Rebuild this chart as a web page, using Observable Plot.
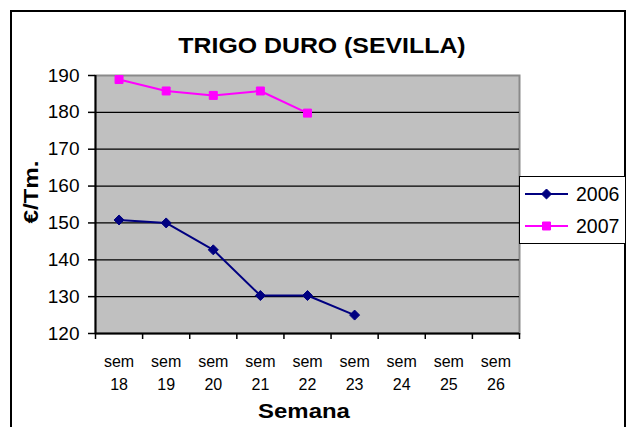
<!DOCTYPE html>
<html>
<head>
<meta charset="utf-8">
<script src="https://cdn.jsdelivr.net/npm/d3@7"></script>
<script src="https://cdn.jsdelivr.net/npm/@observablehq/plot@0.6"></script>
<style>
  html, body { margin: 0; padding: 0; background: #fff; overflow: hidden; }
  body { font-family: Arial, "Liberation Sans", sans-serif; color: #000; }
  #wrap { position: relative; width: 634px; height: 427px; overflow: hidden; }
  #chart { position: absolute; left: 0; top: 0; }
  #border { position: absolute; left: 10px; top: 10px; width: 616px; height: 520px; border: 2px solid #000; box-sizing: border-box; pointer-events: none; }
  .lbl { position: absolute; font-weight: bold; line-height: 1; white-space: nowrap; }
  #title { left: 321.5px; top: 35px; font-size: 22px; transform: translateX(-50%) scaleX(1.13); }
  #xlabel { left: 304px; top: 400px; font-size: 21px; transform: translateX(-50%) scaleX(1.14); }
  #ylabel { left: 30px; top: 192px; font-size: 21px; transform: translate(-50%, -50%) rotate(-90deg) scaleX(1.15); }
  #legend { position: absolute; left: 519px; top: 176px; width: 107px; height: 68px; border: 1.5px solid #000; box-sizing: border-box; background: #fff; }
  #legend svg { position: absolute; left: 0; top: 0; }
</style>
</head>
<body>
<div id="wrap">
  <div id="chart"></div>
  <div id="border"></div>
  <div id="title" class="lbl">TRIGO DURO (SEVILLA)</div>
  <div id="ylabel" class="lbl">€/Tm.</div>
  <div id="xlabel" class="lbl">Semana</div>
  <div id="legend"></div>
</div>
<script>
// ---- data ----
const weeks = ["18", "19", "20", "21", "22", "23", "24", "25", "26"];
const weekPrefix = "sem";
const series = ["2006", "2007"];
const values2006 = [150.8, 150.0, 142.7, 130.3, 130.3, 125.0];
const values2007 = [188.9, 185.8, 184.6, 185.8, 179.8];
const yTicks = [120, 130, 140, 150, 160, 170, 180, 190];
const seriesColors = ["#000080", "#ff00ff"];
const seriesSymbols = ["diamond2", "square"];

const rows = [values2006, values2007].flatMap((vals, s) =>
  vals.map((v, i) => ({series: series[s], i, value: v}))
);
const centers = weeks.map((_, i) => i);
const bounds = d3.range(weeks.length + 1).map(i => i - 0.5);

const chart = Plot.plot({
  width: 634,
  height: 427,
  marginLeft: 95,
  marginRight: 115,
  marginTop: 75,
  marginBottom: 94,
  style: {fontFamily: 'Arial, "Liberation Sans", sans-serif', background: "transparent", color: "#000", overflow: "visible"},
  x: {type: "linear", domain: [bounds[0], bounds[bounds.length - 1]], label: null},
  y: {domain: [yTicks[0], yTicks[yTicks.length - 1]], label: null},
  color: {domain: series, range: seriesColors},
  symbol: {domain: series, range: seriesSymbols},
  marks: [
    Plot.frame({fill: "#c0c0c0", stroke: "#8a8a8a", strokeWidth: 2}),
    Plot.ruleY(yTicks.slice(1, -1), {stroke: "#000", strokeWidth: 1.3}),
    Plot.ruleY([yTicks[0]], {stroke: "#000", strokeWidth: 2}),
    Plot.ruleX([bounds[0]], {stroke: "#000", strokeWidth: 2}),
    Plot.axisY(yTicks, {tickSize: 7, tickPadding: 9, fontSize: 19, stroke: "#000", strokeWidth: 1.5, label: null}),
    Plot.axisX(bounds, {tickSize: 6, tickFormat: () => "", stroke: "#000", strokeWidth: 1.5, label: null}),
    Plot.axisX(centers, {tickSize: 0, tickPadding: 17, fontSize: 16, lineHeight: 1.45,
      tickFormat: i => weekPrefix + "\n" + weeks[i], label: null}),
    Plot.line(rows, {x: "i", y: "value", z: "series", stroke: "series", strokeWidth: 2}),
    Plot.dot(rows, {x: "i", y: "value", symbol: "series", fill: "series", stroke: "series", strokeWidth: 1, r: 4.5})
  ]
});
document.getElementById("chart").appendChild(chart);

// ---- legend ----
const legSvg = d3.select("#legend").append("svg").attr("width", 107).attr("height", 68);
const d3Symbols = {diamond2: d3.symbolDiamond2, square: d3.symbolSquare};
series.forEach((s, k) => {
  const y = 17 + k * 32;
  const g = legSvg.append("g").attr("transform", `translate(0,${y})`);
  g.append("line").attr("x1", 5).attr("x2", 48).attr("y1", 0).attr("y2", 0)
    .attr("stroke", seriesColors[k]).attr("stroke-width", 2);
  g.append("path").attr("transform", "translate(26.5,0)")
    .attr("d", d3.symbol(d3Symbols[seriesSymbols[k]], 4.5 * 4.5 * Math.PI)())
    .attr("fill", seriesColors[k]).attr("stroke", seriesColors[k]);
  g.append("text").attr("x", 56).attr("y", 0).attr("dy", "0.36em")
    .attr("font-size", 19.5).attr("font-family", 'Arial, "Liberation Sans", sans-serif')
    .attr("fill", "#000").text(s);
});
</script>
</body>
</html>
